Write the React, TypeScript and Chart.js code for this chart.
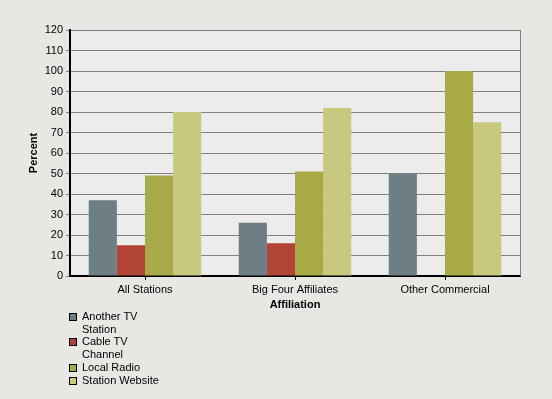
import React, { useEffect, useRef } from "react";
import { Chart, registerables } from "chart.js";

Chart.register(...registerables);

const categories = ["All Stations", "Big Four Affiliates", "Other Commercial"];
const seriesNames = ["Another TV Station", "Cable TV Channel", "Local Radio", "Station Website"];
const legendLines = [["Another TV", "Station"], ["Cable TV", "Channel"], ["Local Radio"], ["Station Website"]];
const anotherTV = [37, 26, 50];
const cableTV = [15, 16, 0];
const localRadio = [49, 51, 100];
const stationWebsite = [80, 82, 75];
const seriesColors = ["#6E7E85", "#B24437", "#A7AA47", "#C8C97E"];
const yTicks = { min: 0, max: 120, step: 10 };

const FONT = "'Liberation Sans', Arial, sans-serif";

const frame = {
  id: "frame",
  beforeDraw(chart: any) {
    const { ctx, chartArea: a } = chart;
    ctx.save();
    ctx.fillStyle = "#ECECEC";
    ctx.fillRect(a.left, a.top, a.right - a.left, a.bottom - a.top);
    ctx.restore();
  },
  afterDatasetsDraw(chart: any) {
    const { ctx, chartArea: a } = chart;
    ctx.save();
    ctx.strokeStyle = "#808080";
    ctx.lineWidth = 1;
    ctx.beginPath();
    ctx.moveTo(Math.round(a.right) + 0.5, a.top);
    ctx.lineTo(Math.round(a.right) + 0.5, a.bottom);
    ctx.stroke();
    ctx.restore();
  },
};

export default function App() {
  const ref = useRef<HTMLCanvasElement>(null);
  useEffect(() => {
    document.body.style.margin = "0";
    const data = [anotherTV, cableTV, localRadio, stationWebsite];
    const chart = new Chart(ref.current!, {
      type: "bar",
      data: {
        labels: categories,
        datasets: seriesNames.map((n, i) => ({
          label: n,
          data: data[i],
          backgroundColor: seriesColors[i],
          borderWidth: 0,
          categoryPercentage: 0.75,
          barPercentage: 1,
        })),
      },
      options: {
        animation: false,
        responsive: false,
        maintainAspectRatio: false,
        layout: { padding: { top: 30, right: 32, bottom: 83, left: 0 } },
        plugins: { legend: { display: false }, tooltip: { enabled: false } },
        scales: {
          x: {
            afterFit: (s: any) => { s.height = 40; },
            grid: { display: true, offset: false, drawOnChartArea: false, drawTicks: true, tickLength: 4, tickColor: "#000", tickWidth: 1 },
            border: { color: "#000", width: 2 },
            ticks: { color: "#000", font: { family: FONT, size: 11 }, padding: 3 },
            title: {
              display: true, text: "Affiliation", color: "#000",
              font: { family: FONT, size: 11, weight: "bold" }, padding: { top: 4, bottom: 4 },
            },
          },
          y: {
            min: yTicks.min, max: yTicks.max,
            afterFit: (s: any) => { s.width = 70; },
            grid: { color: "#808080", lineWidth: 1, tickLength: 4, tickColor: "#808080" },
            border: { color: "#000", width: 2 },
            ticks: { stepSize: yTicks.step, color: "#000", font: { family: FONT, size: 11 }, padding: 3 },
            title: {
              display: true, text: "Percent", color: "#000",
              font: { family: FONT, size: 11, weight: "bold" }, padding: { top: 27, bottom: 4 },
            },
          },
        },
      },
      plugins: [frame],
    });
    return () => chart.destroy();
  }, []);

  return (
    <div style={{ position: "relative", width: 552, height: 399, background: "#E8E7E3", overflow: "hidden" }}>
      <canvas ref={ref} width={552} height={399} style={{ display: "block" }} />
      <div style={{ position: "absolute", left: 69, top: 310, fontFamily: FONT, fontSize: 11, lineHeight: "12.7px", color: "#000" }}>
        {legendLines.map((lines, i) => (
          <div key={i} style={{ display: "flex", alignItems: "flex-start" }}>
            <div style={{ width: 6, height: 6, marginTop: 3, border: "1px solid #000", background: seriesColors[i], flex: "none" }} />
            <div style={{ marginLeft: 5 }}>
              {lines.map((l, j) => (<div key={j}>{l}</div>))}
            </div>
          </div>
        ))}
      </div>
    </div>
  );
}
